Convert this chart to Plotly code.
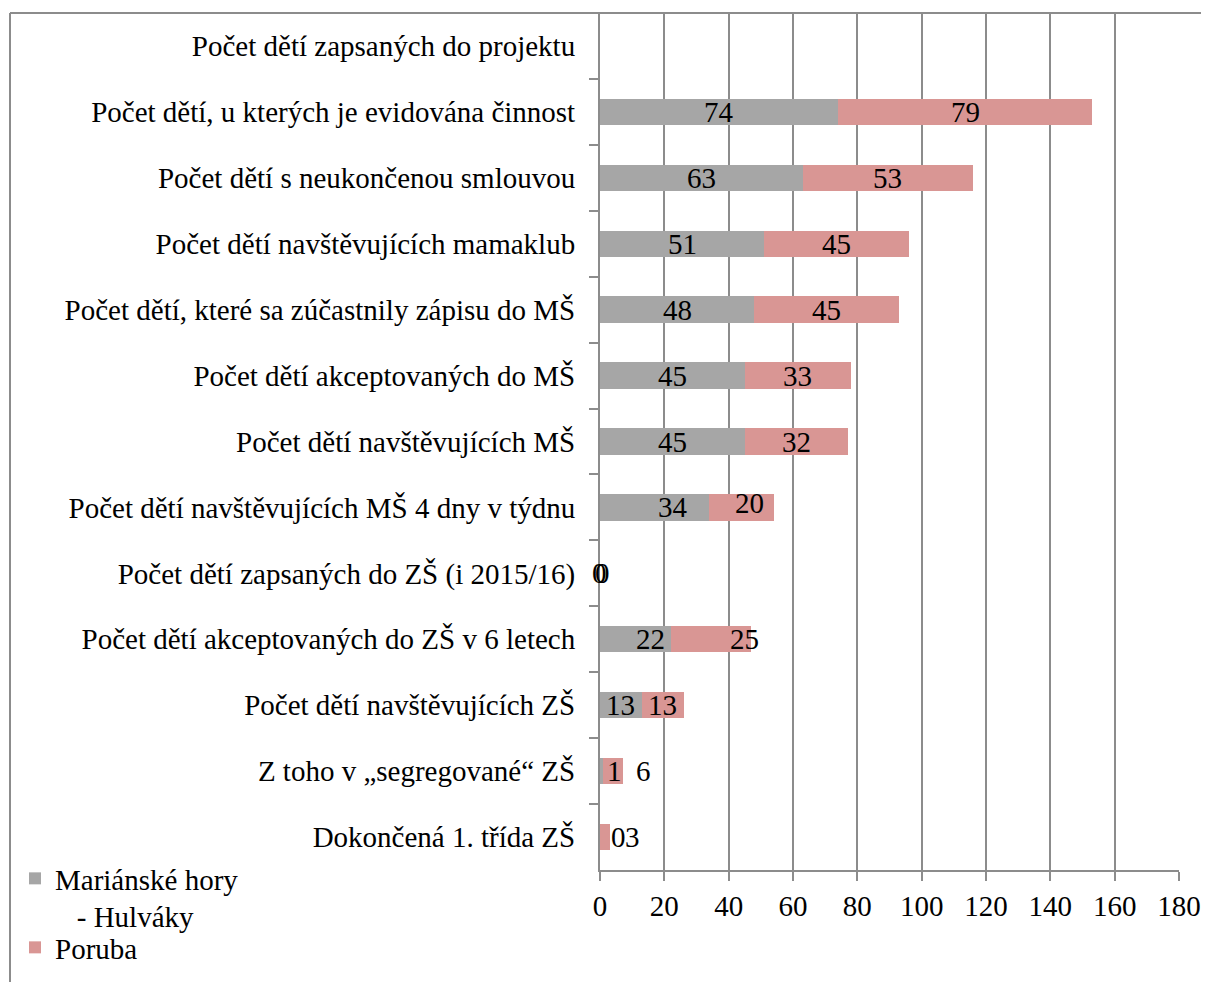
import plotly.graph_objects as go

categories = [
    "Počet dětí zapsaných do projektu",
    "Počet dětí, u kterých je evidována činnost",
    "Počet dětí s neukončenou smlouvou",
    "Počet dětí navštěvujících mamaklub",
    "Počet dětí, které sa zúčastnily zápisu do MŠ",
    "Počet dětí akceptovaných do MŠ",
    "Počet dětí navštěvujících MŠ",
    "Počet dětí navštěvujících MŠ 4 dny v týdnu",
    "Počet dětí zapsaných do ZŠ (i 2015/16)",
    "Počet dětí akceptovaných do ZŠ v 6 letech",
    "Počet dětí navštěvujících ZŠ",
    "Z toho v „segregované“ ZŠ",
    "Dokončená 1. třída ZŠ",
]
mariánské_hory = [None, 74, 63, 51, 48, 45, 45, 34, 0, 22, 13, 1, 0]
poruba = [None, 79, 53, 45, 45, 33, 32, 20, 0, 25, 13, 6, 3]
series_names = ["Mariánské hory<br>\u00a0\u00a0\u00a0- Hulváky", "Poruba"]
x_ticks = [0, 20, 40, 60, 80, 100, 120, 140, 160, 180]

GRAY = "#A6A6A6"
PINK = "#D99694"
AXIS = "#8C8C8C"
FONT = "Liberation Serif"
FS = 29

fig = go.Figure()
fig.add_trace(go.Bar(y=categories, x=mariánské_hory, orientation="h",
                     name=series_names[0], legend="legend",
                     marker=dict(color=GRAY, line=dict(width=0))))
fig.add_trace(go.Bar(y=categories, x=poruba, orientation="h",
                     name=series_names[1], legend="legend2",
                     marker=dict(color=PINK, line=dict(width=0))))

# data labels (label offsets in px mimic the reference's manual placement)
shift_a = {7: 18, 8: -1, 9: 15, 11: 13, 12: 18}
shift_b = {7: 8, 8: 2, 9: 34, 11: 31, 12: 28}
yshift_b = {7: 4}
annotations = []
for i, cat in enumerate(categories):
    a, b = mariánské_hory[i], poruba[i]
    if a is None:
        continue
    annotations.append(dict(x=a / 2, y=cat, xref="x", yref="y", text=str(a), showarrow=False,
                            xshift=shift_a.get(i, 0), yshift=0,
                            font=dict(family=FONT, size=FS, color="black")))
    annotations.append(dict(x=a + b / 2, y=cat, xref="x", yref="y", text=str(b), showarrow=False,
                            xshift=shift_b.get(i, 0), yshift=yshift_b.get(i, 0),
                            font=dict(family=FONT, size=FS, color="black")))

# page has an 8px body margin; figure coordinates below are page - 8
W, H = 1193, 974
L, T = 592, 5
PR, PB = 1171, 862          # plot right / bottom in figure px
R, B = W - PR, H - PB
pw, ph = PR - L, PB - T
def px_x(p):
    return (p - L) / pw
def px_y(p):
    return (PB - p) / ph

shapes = [
    dict(type="line", xref="paper", yref="paper", x0=px_x(2), x1=px_x(1215), y0=1, y1=1,
         line=dict(color=AXIS, width=2)),
    dict(type="line", xref="paper", yref="paper", x0=px_x(2), x1=px_x(2), y0=1, y1=px_y(995),
         line=dict(color=AXIS, width=2)),
]

legend_common = dict(xanchor="left", yanchor="top",
                     font=dict(family=FONT, size=FS, color="black"),
                     valign="top", traceorder="normal", itemwidth=30,
                     bgcolor="rgba(0,0,0,0)", tracegroupgap=0)

fig.update_layout(
    barmode="stack",
    bargap=0.6,
    width=W, height=H,
    margin=dict(l=L, r=R, t=T, b=B, pad=0, autoexpand=False),
    paper_bgcolor="white", plot_bgcolor="white",
    font=dict(family=FONT, size=FS, color="black"),
    annotations=annotations,
    shapes=shapes,
    showlegend=True,
    legend=dict(x=px_x(7), y=px_y(845), **legend_common),
    legend2=dict(x=px_x(7), y=px_y(914), **legend_common),
    xaxis=dict(range=[0, 180], tickvals=x_ticks, showgrid=True, gridcolor=AXIS, gridwidth=2,
               showline=True, linecolor=AXIS, linewidth=2, ticks="outside", ticklen=9,
               tickcolor=AXIS, tickwidth=2, zeroline=False, automargin=False,
               tickfont=dict(family=FONT, size=FS, color="black")),
    yaxis=dict(autorange="reversed", type="category", showline=True, linecolor=AXIS, linewidth=2,
               ticks="outside", ticklen=9, tickcolor=AXIS, tickwidth=2, tickson="boundaries",
               ticklabelstandoff=17, automargin=False,
               showgrid=False, tickfont=dict(family=FONT, size=FS, color="black")),
)

fig.write_html("out.html")
